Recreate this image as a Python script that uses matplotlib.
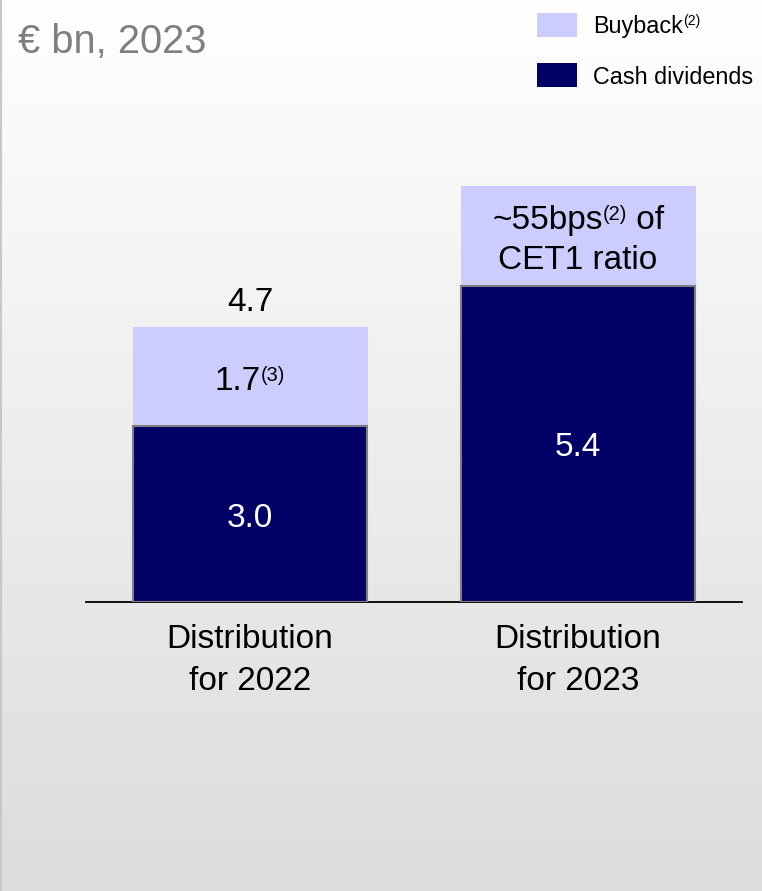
import re
import numpy as np
import matplotlib
matplotlib.use("Agg")
import matplotlib.pyplot as plt
from matplotlib.patches import Rectangle
from matplotlib.offsetbox import TextArea, HPacker, VPacker, AnnotationBbox

plt.rcParams["font.family"] = ["Liberation Sans", "DejaVu Sans"]

# Data
categories = ["Distribution\nfor 2022", "Distribution\nfor 2023"]
cash_dividends = [3.0, 5.4]
buyback = [1.7, 1.7]
cash_labels = ["3.0", "5.4"]
buyback_labels = ["1.7^{(3)}", "~55bps^{(2)} of\nCET1 ratio"]
total_labels = ["4.7", ""]
series_names = ["Buyback^{(2)}", "Cash dividends"]

DARK = "#000066"
LIGHT = "#ccccff"

W, H = 762, 891
fig = plt.figure(figsize=(W / 100, H / 100), dpi=100)


def rich_box(label, size, color="black", sup_scale=0.6, line_sep=4):
    """Build an offset box for text where ^{...} marks a small raised part."""
    lines = []
    for line in label.split("\n"):
        parts = []
        for seg in re.split(r"(\^\{[^}]*\})", line):
            if not seg:
                continue
            if seg.startswith("^{"):
                parts.append(TextArea(seg[2:-1], textprops=dict(
                    fontsize=size * sup_scale, color=color)))
            else:
                parts.append(TextArea(seg, textprops=dict(fontsize=size, color=color)))
        lines.append(HPacker(children=parts, align="top", pad=0, sep=0))
    if len(lines) == 1:
        return lines[0]
    return VPacker(children=lines, align="center", pad=0, sep=line_sep)


def place(box, xy, xycoords, align=(0.5, 0.5), offset=(0, 0), zorder=4):
    return AnnotationBbox(box, xy, xycoords=xycoords, xybox=offset,
                          boxcoords="offset points", box_alignment=align,
                          frameon=False, pad=0, zorder=zorder)


# Soft vertical gradient backdrop
bg = fig.add_axes([0, 0, 1, 1], zorder=0)
grad = np.linspace(1.0, 0.0, 256).reshape(-1, 1)
top_c, bot_c = 1.0, 0.863
vals = bot_c + (top_c - bot_c) * grad
img = np.dstack([vals, vals, vals])
bg.imshow(img, aspect="auto", extent=[0, 1, 0, 1], origin="upper")
bg.axvline(0.0008, color="#c8c8c8", lw=1.5)
bg.set_xlim(0, 1)
bg.set_ylim(0, 1)
bg.axis("off")

# Main bar axes
px_per_unit = 58.6
base_y = 602
ax_top = 100
ax = fig.add_axes([86 / W, (H - base_y) / H, 656 / W, (base_y - ax_top) / H], zorder=1)
ax.set_facecolor("none")
ax.set_xlim(-0.5, 1.5)
ax.set_ylim(0, (base_y - ax_top) / px_per_unit)

x = np.arange(len(categories))
width = 234 / 328
ax.bar(x, cash_dividends, width, color=DARK, edgecolor="#7f7f7f", linewidth=1.5, zorder=3)
ax.bar(x, buyback, width, bottom=cash_dividends, color=LIGHT, edgecolor=LIGHT,
       linewidth=0.8, zorder=2)

for i in range(len(categories)):
    c = cash_dividends[i]
    b = buyback[i]
    ax.annotate(cash_labels[i], (x[i], c / 2), xytext=(0, -3),
                textcoords="offset points", ha="center", va="center",
                color="white", fontsize=24, zorder=4)
    ax.add_artist(place(rich_box(buyback_labels[i], 24, line_sep=6),
                        (x[i], c + b / 2), ax.transData, offset=(0, -3.5)))
    if total_labels[i]:
        ax.annotate(total_labels[i], (x[i], c + b), xytext=(0, 17),
                    textcoords="offset points", ha="center", va="center",
                    fontsize=24, color="black", zorder=4)

for s in ["top", "right", "left"]:
    ax.spines[s].set_visible(False)
ax.spines["bottom"].set_color("black")
ax.spines["bottom"].set_linewidth(1.3)
ax.set_yticks([])
ax.set_xticks(x)
ax.set_xticklabels(categories, fontsize=24, linespacing=1.45)
ax.tick_params(axis="x", length=0, pad=16)

# Unit caption
fig.text(18 / W, 1 - 42 / H, "€ bn, 2023", color="#7f7f7f", fontsize=28.7,
         ha="left", va="center")

# Legend
leg_colors = [LIGHT, DARK]
leg_y = [25, 75]
leg_text_y = [26, 78]
for name, col, yc, ty in zip(series_names, leg_colors, leg_y, leg_text_y):
    fig.add_artist(Rectangle((537 / W, 1 - (yc + 12) / H), 40 / W, 24 / H,
                             transform=fig.transFigure, facecolor=col,
                             edgecolor="none", zorder=5))
    fig.add_artist(place(rich_box(name, 16.8), (593 / W, 1 - ty / H),
                         fig.transFigure, align=(0, 0.5), zorder=5))

fig.savefig("out.png", dpi=100)
